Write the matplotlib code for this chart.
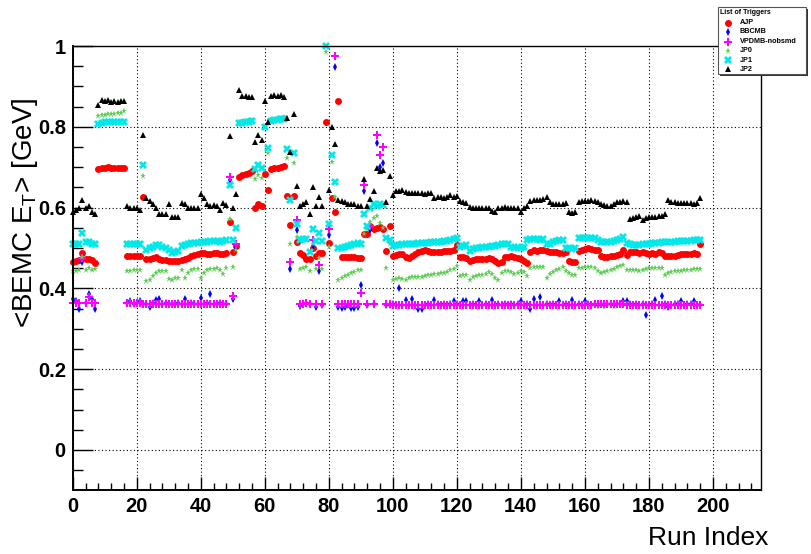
import numpy as np
import matplotlib
matplotlib.use('Agg')
import matplotlib.pyplot as plt
from matplotlib.patches import Rectangle

nan = float('nan')
run_index = list(range(197))

# ---- <BEMC E_T> per run, one list per trigger (nan = trigger absent) ----
ajp = [
    .466, .469, .470, .488, .472, .472, .470, .462,
    .695, .697, .699, .700, .699, .698, .699, .698, .698,
    .481, .481, .480, .480, .479,
    .625,
    .474, .472, .476, .478, .474, .470, .470, .468, .467,
    .468, .468, .470, .472, .476, .479, .482, .484, .487, .487, .485, .484, .487, .487, .486, .485, .487,
    .565, .490, .505,
    .676, .680, .683, .686, .690,
    .600, .610, .605,
    .683, .644,
    .695, .697, .698, .700, .702,
    .628, .558, .628, .514,
    .487, .483, .474, .474, .500, .480, .487, .487,
    .812, .513, .623, .590, .864,
    .477, .478, .478, .477, .478, .476, .475, .534,
    .535, .555, .548, .550, .553, .546, .492, .554,
    .480, .482, .486, .484, .478, .475, .480, .486, .490, .493,
    .495, .492, .490, .489, .490, .491, .492, .493, .493, .495,
    .507, .478, .477, .475, .467, .470, .472, .473, .473, .474,
    .475, .472, .469, .463, .466, .478, .478, .479, .478, .475,
    .472, .468, .464, .490, .496, .492, .495, .496, .492, .490,
    .489, .489, .488, .488, .490, .468, .466, .466, .492, .496,
    .497, .500, .497, .495, .494, .479, .478, .478, .479, .480,
    .482, .485, .495, .483, .491, .489, .489, .488, .489, .487,
    .485, .487, .485, .489, .487, .479, .479, .479, .481, .483,
    .485, .485, .486, .486, .487, .486, .509,
]

bbcmb = [
    .375, .370, .350, .465, .363, .386, .373, .348,
    nan, nan, nan, nan, nan, nan, nan, nan, nan,
    .363, .370, .362, .363, .368,
    .362,
    .362, .355, .363, .371, .375, .362, .363, .362, .362,
    .362, .363, .362, .373, .362, .363, .362, .362, .377, .362, .363, .385, .362, .362, .363, .362, .362,
    .668, .375, .500,
    nan, nan, nan, nan, nan,
    nan, nan, nan,
    nan, nan,
    nan, nan, nan, nan, nan,
    nan, .447, nan, .545,
    .356, .362, .363, .362, .505, .355, .443, .360,
    nan, .532, nan, .947, .355,
    .352, .355, .358, .352, .352, .355, .408, .641,
    .360, .545, .362, .760, .700, .711, .360, .360,
    .362, .360, .400, .360, .372, .360, .373, .360, .350, .350,
    .360, .362, .360, .372, .361, .360, .362, .360, .361, .370,
    .362, .360, .370, .370, .360, .361, .360, .368, .360, .361,
    .360, .371, .360, .362, .360, .361, .360, .362, .360, .361,
    .370, .360, .361, .348, .375, .360, .378, .360, .362, .360,
    .361, .360, .370, .360, .361, .360, .372, .360, .361, .360,
    .370, .361, .360, .362, .360, .361, .360, .362, .361, .360,
    .362, .361, .370, .370, .361, .360, .362, .360, .361, .334,
    .360, .362, .372, .360, .382, .361, .353, .360, .362, .361,
    .368, .360, .361, .362, .368, .360, .358,
]

vpdmb = [
    .363, .363, .363, .476, .363, .379, .363, .363,
    nan, nan, nan, nan, nan, nan, nan, nan, nan,
    .363, .363, .363, .363, .363,
    .362,
    .362, .362, .362, .362, .362, .362, .362, .362, .362,
    .362, .362, .362, .362, .362, .362, .362, .362, .362, .362, .362, .362, .362, .362, .362, .362, .362,
    .675, .381, .510,
    nan, nan, nan, nan, nan,
    nan, nan, nan,
    nan, nan,
    nan, nan, nan, nan, nan,
    nan, .466, nan, .569,
    .362, .362, .363, .362, .520, .362, .458, .362,
    nan, .548, nan, .976, .362,
    .362, .362, .362, .362, .362, .362, .389, .655,
    .362, .555, .362, .780, .730, .749, .362, .362,
    .360, .360, .360, .360, .360, .360, .360, .360, .360, .360,
    .360, .360, .360, .360, .360, .360, .360, .360, .360, .360,
    .360, .360, .360, .360, .360, .360, .360, .360, .360, .360,
    .360, .360, .360, .360, .360, .360, .360, .360, .360, .360,
    .360, .360, .360, .360, .360, .360, .360, .360, .360, .360,
    .360, .360, .360, .360, .360, .360, .360, .360, .360, .360,
    .360, .360, .360, .361, .361, .362, .362, .362, .362, .362,
    .362, .362, .361, .360, .360, .360, .360, .360, .360, .360,
    .360, .360, .360, .360, .360, .360, .360, .360, .360, .360,
    .360, .360, .360, .360, .360, .360, .360,
]

jp0 = [
    .444, .444, .445, .478, .445, .450, .445, .447,
    .826, .828, .830, .831, .832, .832, .833, .835, .838,
    .443, .444, .445, .446, .446,
    .678,
    .419, .422, .430, .437, .444, .444, .444, .424, .422,
    .425, .425, .445, .425, .437, .445, .448, .448, .425, .437, .445, .447, .449, .450, .446, .435, .450,
    .573, .454, .494,
    .812, .814, .815, .817, .818,
    .672, .680, .674,
    .802, .735,
    .818, .820, .822, .823, .824,
    .722, .510, .711, .526,
    .447, .450, .452, .444, .510, .448, .475, .448,
    .985, .503, .713, .627, .420,
    .425, .430, .433, .437, .440, .445, .445, .535,
    .548, .565, .575, .580, .563, .550, .450, .510,
    .422, .424, .425, .424, .422, .425, .427, .428, .428, .427,
    .430, .432, .433, .435, .436, .437, .438, .440, .445, .448,
    .455, .430, .432, .434, .420, .428, .430, .432, .433, .435,
    .440, .436, .425, .420, .438, .444, .442, .440, .436, .438,
    .442, .440, .430, .451, .452, .452, .452, .454, .425, .436,
    .440, .445, .448, .452, .444, .438, .433, .433, .450, .451,
    .452, .452, .452, .450, .444, .438, .440, .443, .446, .449,
    .452, .455, .458, .445, .445, .445, .445, .444, .446, .447,
    .451, .450, .450, .450, .450, .432, .438, .440, .442, .443,
    .444, .445, .446, .446, .447, .447, .448,
]

jp1 = [
    .510, .510, .510, .538, .515, .515, .510, .510,
    .808, .810, .812, .812, .811, .812, .813, .812, .811,
    .510, .510, .511, .510, .510,
    .705,
    .495, .499, .503, .507, .507, .503, .501, .495, .487,
    .490, .492, .505, .508, .510, .512, .512, .513, .515, .515, .516, .517, .517, .518, .515, .518, .519,
    .656, .519, .550,
    .810, .810, .812, .813, .815,
    .695, .705, .698,
    .800, .747,
    .815, .817, .818, .820, .820,
    .744, .620, .736, .560,
    .520, .522, .522, .490, .546, .518, .538, .518,
    1.000, .560, .730, .664, .500,
    .500, .502, .505, .507, .510, .512, .510, .585,
    .555, .600, .610, .605, .610, .606, .524, .520,
    .505, .507, .508, .509, .509, .510, .510, .511, .512, .512,
    .513, .513, .514, .514, .515, .516, .517, .518, .520, .522,
    .525, .503, .505, .507, .493, .497, .499, .500, .502, .503,
    .503, .505, .506, .508, .510, .511, .510, .503, .500, .502,
    .500, .502, .521, .522, .523, .522, .520, .522, .510, .510,
    .516, .518, .520, .520, .500, .499, .498, .500, .524, .525,
    .525, .525, .524, .524, .520, .515, .515, .515, .516, .518,
    .520, .523, .527, .513, .510, .508, .508, .508, .509, .510,
    .511, .512, .512, .513, .514, .515, .515, .516, .516, .517,
    .517, .518, .518, .518, .519, .519, .520,
]

jp2 = [
    .590, .595, .600, .620, .600, .605, .590, .585,
    .855, .866, .864, .866, .862, .864, .862, .863, .864,
    .605, .600, .600, .598, .595,
    .780,
    .623, .616, .610, .600, .585, .585, .585, .610, .577,
    .577, .577, .612, .610, .598, .600, .598, .598, .633, .623, .610, .604, .606, .604, .594, .612, .606,
    .777, .600, .634,
    .891, .876, .876, .875, .875,
    .763, .780, .767,
    .864, .813,
    .877, .878, .876, .878, .875,
    .823, .737, .831, .654,
    .605, .610, .614, .584, .650, .605, .627, .605,
    nan, .643, .800, .757, .619,
    .617, .615, .610, .610, .610, .605, .605, .670,
    .604, .622, .640, .697, .690, .693, .615, .679,
    .631, .640, .642, .643, .638, .636, .635, .636, .635, .635,
    .633, .635, .636, .623, .625, .627, .623, .627, .631, .627,
    .628, .616, .615, .612, .602, .598, .598, .598, .598, .598,
    .598, .592, .588, .600, .600, .601, .600, .600, .599, .600,
    .590, .600, .605, .617, .620, .618, .620, .622, .627, .613,
    .610, .610, .608, .610, .612, .590, .586, .590, .615, .616,
    .616, .617, .618, .616, .615, .608, .606, .605, .604, .608,
    .614, .615, .616, .613, .573, .575, .576, .578, .569, .575,
    .577, .577, .576, .578, .580, .584, .620, .615, .613, .612,
    .612, .612, .612, .611, .610, .611, .623,
]

trigger_names = ['AJP', 'BBCMB', 'VPDMB-nobsmd', 'JP0', 'JP1', 'JP2']
trigger_values = [ajp, bbcmb, vpdmb, jp0, jp1, jp2]

styles = [
    dict(marker='o', color='#ff0000', ms=5.0, mew=0.0),
    dict(marker='d', color='#0000ff', ms=4.2, mew=0.0),
    dict(marker='P', color='#ff00ff', ms=5.5, mew=0.0),
    dict(marker='*', color='#5fcc55', ms=5.0, mew=0.0),
    dict(marker='X', color='#00e8e8', ms=5.2, mew=0.0),
    dict(marker='^', color='#000000', ms=5.0, mew=0.0),
]

plt.rcParams['font.family'] = ['Liberation Sans', 'DejaVu Sans']

W, H = 811, 554
fig = plt.figure(figsize=(W / 100, H / 100), dpi=100)
fig.patch.set_facecolor('white')

x0, x1 = 72.7, 761.0
yt, yb = 46.0, 490.4
ax = fig.add_axes([x0 / W, 1 - yb / H, (x1 - x0) / W, (yb - yt) / H])

for vals, st in zip(trigger_values, styles):
    ax.plot(run_index, vals, linestyle='none', clip_on=False, **st)

ax.set_xlim(0, 215)
ax.set_ylim(-0.1, 1.0)

ax.set_xticks(list(range(0, 201, 20)))
ax.set_xticks([v for v in range(0, 215, 4) if v % 20 != 0], minor=True)
ax.set_yticks([0, 0.2, 0.4, 0.6, 0.8, 1.0])
ax.set_yticklabels(['0', '0.2', '0.4', '0.6', '0.8', '1'])
ax.set_yticks([-0.05, 0.05, 0.1, 0.15, 0.25, 0.3, 0.35, 0.45, 0.5, 0.55,
               0.65, 0.7, 0.75, 0.85, 0.9, 0.95], minor=True)

ax.grid(which='major', linestyle=(0, (1, 2.2)), color='black', linewidth=0.8)
ax.set_axisbelow(True)

ax.tick_params(axis='both', which='both', direction='in', top=False, right=False,
               width=1.0, labelsize=14.5)
ax.tick_params(axis='y', which='major', length=14.5, pad=5)
ax.tick_params(axis='y', which='minor', length=7.2)
ax.tick_params(axis='x', which='major', length=9.5, pad=5)
ax.tick_params(axis='x', which='minor', length=4.8)
for lab in ax.get_xticklabels() + ax.get_yticklabels():
    lab.set_fontweight('bold')

for sp in ax.spines.values():
    sp.set_linewidth(1.0)
ax.spines['left'].set_linewidth(1.4)
ax.spines['bottom'].set_linewidth(1.4)

fig.text(768 / W, 1 - 538 / H, 'Run Index', ha='right', va='center', fontsize=19)
fig.text(25 / W, 1 - 213 / H, r'<BEMC E$_\mathregular{T}$> [GeV]', ha='center', va='center',
         rotation=90, fontsize=20)

# ---- legend box (TLegend style) ----
lax = fig.add_axes([715 / W, 1 - 79 / H, 96 / W, 75 / H])
lax.set_xlim(715, 811)
lax.set_ylim(79, 4)
lax.axis('off')
lax.add_patch(Rectangle((720, 9), 88, 67, facecolor='#333333', edgecolor='none'))
lax.add_patch(Rectangle((718, 7), 88, 67, facecolor='white', edgecolor='#555555', linewidth=0.8))
lax.text(720.5, 12, 'List of Triggers', fontsize=5, fontweight='bold', va='center', ha='left')
row_y = [22.7, 31.9, 41.5, 50.7, 60.0, 69.3]
for name, st, yy in zip(trigger_names, styles, row_y):
    lax.plot([728], [yy], linestyle='none', **st)
    lax.text(740, yy, name, fontsize=5.2, fontweight='bold', va='center', ha='left')

fig.savefig('out.png', dpi=100)
